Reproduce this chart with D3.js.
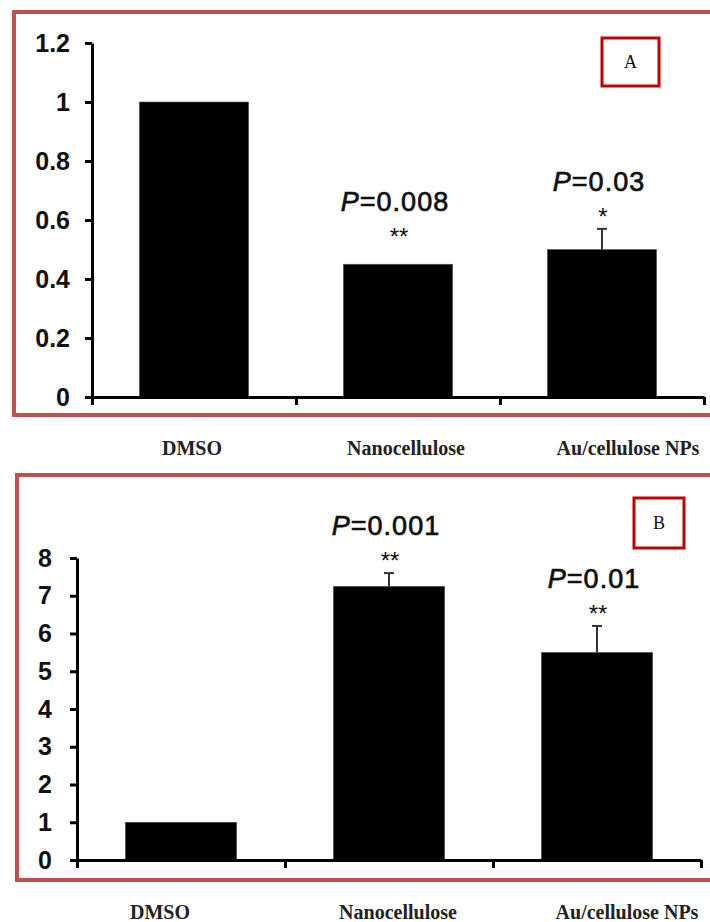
<!DOCTYPE html>
<html>
<head>
<meta charset="utf-8">
<script src="https://cdnjs.cloudflare.com/ajax/libs/d3/7.8.5/d3.min.js"></script>
<style>
	body { margin: 0; background: #fff; }
	svg { display: block; }
</style>
</head>
<body>
<div id="chart"></div>
<script>
var categories = ["DMSO", "Nanocellulose", "Au/cellulose NPs"];

// panel A
var valuesA = [1, 0.45, 0.5],
	errorsA = [0, 0, 0.07],
	pValuesA = [null, "0.008", "0.03"],
	starsA = ["", "**", "*"],
	ticksA = [0, 0.2, 0.4, 0.6, 0.8, 1, 1.2];

// panel B
var valuesB = [1, 7.25, 5.5],
	errorsB = [0, 0.35, 0.7],
	pValuesB = [null, "0.001", "0.01"],
	starsB = ["", "**", "**"],
	ticksB = [0, 1, 2, 3, 4, 5, 6, 7, 8];

var BarPanels = (function() {
	"use strict";

	var width = 710,
		height = 922,
		frameColor = "#c0504d",
		boxColor = "#c00000",
		sansFont = "'Liberation Sans', Arial, sans-serif",
		serifFont = "'Liberation Serif', 'Times New Roman', serif",
		svg = d3.select("#chart")
			.append("svg")
			.attr("width", width)
			.attr("height", height);

	function drawPanel(opts) {
		var g = svg.append("g"),
			y = d3.scaleLinear()
				.domain([0, d3.max(opts.ticks)])
				.range([opts.bottom, opts.top]),
			xLin = d3.scaleLinear()
				.domain([0, opts.values.length])
				.range([opts.left, opts.right]),
			x = d3.scaleBand()
				.domain(categories)
				.range([opts.left, opts.right]),
			barW = x.bandwidth() * 0.535;

		// frame round the plot
		g.append("rect")
			.attr("x", opts.frame[0])
			.attr("y", opts.frame[1])
			.attr("width", opts.frame[2])
			.attr("height", opts.frame[3])
			.attr("fill", "none")
			.attr("stroke", frameColor)
			.attr("stroke-width", 4);

		// bars
		g.append("g")
			.selectAll("rect")
			.data(opts.values)
			.enter()
			.append("rect")
			.attr("x", function(d, i) { return x(categories[i]) + (x.bandwidth() - barW) / 2; })
			.attr("y", function(d) { return y(d); })
			.attr("width", barW)
			.attr("height", function(d) { return y(0) - y(d); })
			.attr("fill", "#000")
			.attr("stroke", "#555")
			.attr("stroke-width", 0.6);

		// error bars
		var err = g.append("g")
			.selectAll("g")
			.data(opts.values.map(function(d, i) { return { v: d, e: opts.errors[i], c: categories[i] }; })
				.filter(function(d) { return d.e > 0; }))
			.enter()
			.append("g")
			.attr("stroke", "#333")
			.attr("stroke-width", 2);

		err.append("line")
			.attr("x1", function(d) { return x(d.c) + x.bandwidth() / 2; })
			.attr("x2", function(d) { return x(d.c) + x.bandwidth() / 2; })
			.attr("y1", function(d) { return y(d.v); })
			.attr("y2", function(d) { return y(d.v + d.e); });

		err.append("line")
			.attr("x1", function(d) { return x(d.c) + x.bandwidth() / 2 - 5; })
			.attr("x2", function(d) { return x(d.c) + x.bandwidth() / 2 + 5; })
			.attr("y1", function(d) { return y(d.v + d.e); })
			.attr("y2", function(d) { return y(d.v + d.e); });

		// axes
		var yAxis = g.append("g")
			.attr("transform", "translate(" + opts.left + ",0)")
			.call(d3.axisLeft(y)
				.tickValues(opts.ticks)
				.tickFormat(function(d) { return String(+d.toFixed(1)); })
				.tickSize(7)
				.tickSizeOuter(0)
				.tickPadding(opts.tickPad));

		g.append("g")
			.attr("transform", "translate(0," + opts.bottom + ")")
			.call(d3.axisBottom(xLin)
				.tickValues(d3.range(opts.values.length + 1))
				.tickFormat("")
				.tickSize(8)
				.tickSizeOuter(0));

		g.selectAll(".domain, .tick line")
			.attr("stroke", "#000")
			.attr("stroke-width", 3);

		yAxis.selectAll("text")
			.attr("font-family", sansFont)
			.attr("font-size", 25)
			.attr("font-weight", "bold")
			.attr("fill", "#111");

		// significance marks
		var notes = g.append("g")
			.attr("font-family", sansFont)
			.attr("text-anchor", "middle")
			.attr("fill", "#111");

		opts.values.forEach(function(v, i) {
			if (!opts.pValues[i]) return;
			var cx = x(categories[i]) + x.bandwidth() / 2,
				starY = y(v + opts.errors[i]) - (opts.errors[i] > 0 ? 4 : 19),
				t;

			notes.append("text")
				.attr("x", cx + 1)
				.attr("y", starY)
				.attr("font-size", 24)
				.text(opts.stars[i]);

			// regular weight with a thin stroke looks closer than plain bold
			t = notes.append("text")
				.attr("x", cx - 3)
				.attr("y", starY - 34)
				.attr("font-size", 27)
				.attr("letter-spacing", 1)
				.attr("stroke", "#111")
				.attr("stroke-width", 0.7);
			t.append("tspan")
				.attr("font-style", "italic")
				.text("P");
			t.append("tspan")
				.text("=" + opts.pValues[i]);
		});

		// category labels under the frame
		g.append("g")
			.selectAll("text")
			.data(categories)
			.enter()
			.append("text")
			.attr("x", function(d, i) { return x(d) + x.bandwidth() / 2 + opts.labelShift[i]; })
			.attr("y", opts.labelY)
			.attr("text-anchor", "middle")
			.attr("font-family", serifFont)
			.attr("font-size", 20)
			.attr("font-weight", "bold")
			.attr("fill", "#222")
			.text(function(d) { return d; });

		// panel letter box
		g.append("rect")
			.attr("x", opts.box[0])
			.attr("y", opts.box[1])
			.attr("width", opts.box[2])
			.attr("height", opts.box[3])
			.attr("fill", "#fff")
			.attr("stroke", boxColor)
			.attr("stroke-width", 3);

		g.append("text")
			.attr("x", opts.box[0] + opts.box[2] / 2)
			.attr("y", opts.box[1] + opts.box[3] / 2 + 6)
			.attr("text-anchor", "middle")
			.attr("font-family", serifFont)
			.attr("font-size", 18)
			.attr("fill", "#111")
			.text(opts.letter);
	}

	return {
		draw: drawPanel
	};
})();

BarPanels.draw({
	values: valuesA, errors: errorsA, pValues: pValuesA, stars: starsA, ticks: ticksA,
	left: 92, right: 704, top: 43, bottom: 397, tickPad: 15,
	frame: [14, 12, 720, 403],
	labelY: 455, labelShift: [-2, 8, 26],
	box: [602, 38, 57, 48], letter: "A"
});

BarPanels.draw({
	values: valuesB, errors: errorsB, pValues: pValuesB, stars: starsB, ticks: ticksB,
	left: 77, right: 701, top: 558, bottom: 860, tickPad: 18,
	frame: [17, 475, 720, 405],
	labelY: 919, labelShift: [-21, 9, 30],
	box: [634, 498, 50, 50], letter: "B"
});
</script>
</body>
</html>
